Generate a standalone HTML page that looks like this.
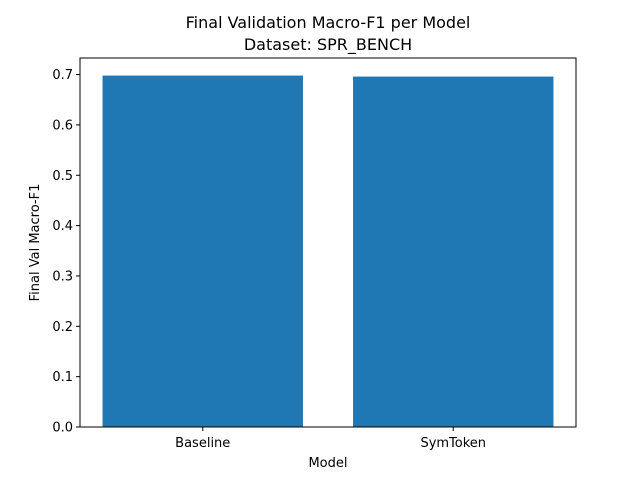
<!DOCTYPE html>
<html><head><meta charset="utf-8"><style>
body{margin:0;background:#fff}
svg text{font-family:"DejaVu Sans","Liberation Sans",sans-serif;fill:#000}
</style></head><body>
<svg id="chart" width="640" height="480">
<rect width="640" height="480" fill="#fff"/>
<text x="328" y="28" font-size="16" text-anchor="middle">Final Validation Macro-F1 per Model</text>
<text x="328" y="50" font-size="16" text-anchor="middle">Dataset: SPR_BENCH</text>
<g id="bars"></g><g id="yticks"></g><g id="xticks"></g>
<rect x="80" y="58" width="496" height="369" fill="none" stroke="#000" stroke-width="1"/>
<text x="328" y="467" font-size="13" text-anchor="middle">Model</text>
<text transform="translate(39,242.5) rotate(-90)" font-size="13" text-anchor="middle">Final Val Macro-F1</text>
</svg>
<script>
const categories=["Baseline","SymToken"];
const values=[0.698,0.696];
const yTicks=[0,0.1,0.2,0.3,0.4,0.5,0.6,0.7];
const L=80,R=576,T=58,B=427,yMax=0.7329,xMin=-0.49,xMax=1.49;
const ns="http://www.w3.org/2000/svg";
const sx=v=>L+(v-xMin)/(xMax-xMin)*(R-L);
const sy=v=>B-v/yMax*(B-T);
function mk(t,a,p){const e=document.createElementNS(ns,t);for(const k in a)e.setAttribute(k,a[k]);p.appendChild(e);return e;}
const gb=document.getElementById('bars'),gy=document.getElementById('yticks'),gx=document.getElementById('xticks');
categories.forEach((c,i)=>{
  const x0=sx(i-0.4),x1=sx(i+0.4);
  const r=mk('rect',{x:x0,y:sy(values[i]),width:x1-x0,height:B-sy(values[i]),fill:'#1f77b4'},gb);
  
  
  mk('line',{x1:sx(i),x2:sx(i),y1:B,y2:B+4,stroke:'#000'},gx);
  const t=mk('text',{x:sx(i),y:B+20,'font-size':13,'text-anchor':'middle'},gx);
  t.textContent=c;
  
  
});
yTicks.forEach(v=>{
  mk('line',{x1:L-4,x2:L,y1:sy(v),y2:sy(v),stroke:'#000'},gy);
  const t=mk('text',{x:L-7,y:sy(v)+4.5,'font-size':13,'text-anchor':'end'},gy);
  t.textContent=v.toFixed(1);
  
  
});
</script>
</body></html>
